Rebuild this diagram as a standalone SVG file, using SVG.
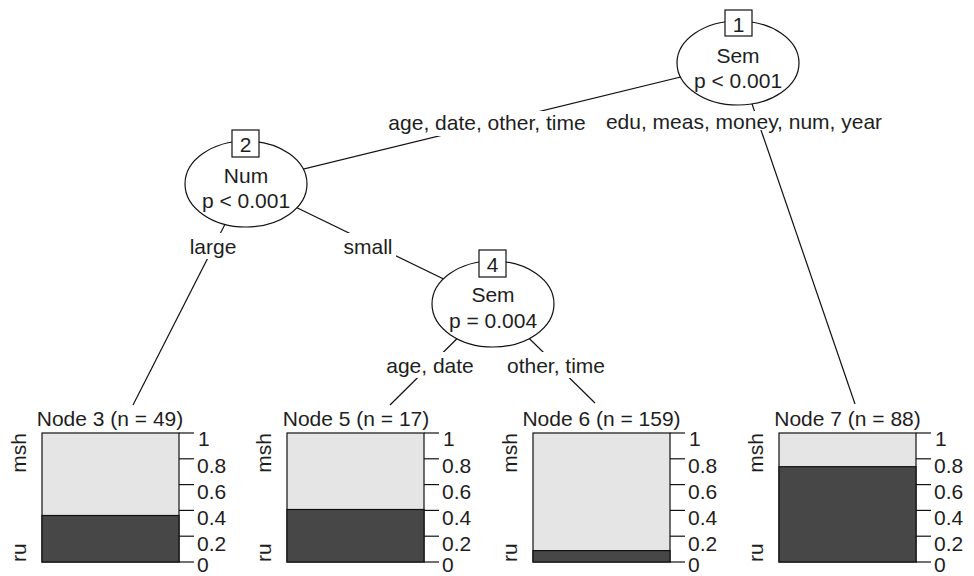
<svg xmlns="http://www.w3.org/2000/svg" width="974" height="576" viewBox="0 0 974 576">
<style>
text { font-family: "Liberation Sans", Arial, sans-serif; font-size: 21px; fill: #1e1e1e; }
.c { text-anchor: middle; }
.edge line { stroke: #111; stroke-width: 1.2; fill: none; }
.ell { fill: #fff; stroke: #111; stroke-width: 1.2; }
.nb { fill: #fff; stroke: #111; stroke-width: 1.2; }
.bg { fill: #fff; }
.lt { fill: #e5e5e5; stroke: #111; stroke-width: 1.2; }
.dk { fill: #474747; stroke: #111; stroke-width: 1.2; }
.tick { stroke: #111; stroke-width: 1.2; }
</style>
<rect width="974" height="576" fill="#fff"/>
<g id="connectors" class="edge">
  <line x1="738" y1="63" x2="246" y2="183"/>
  <line x1="738" y1="63" x2="855" y2="404"/>
  <line x1="246" y1="183" x2="133" y2="405"/>
  <line x1="246" y1="183" x2="493" y2="303"/>
  <line x1="493" y1="303" x2="390" y2="405"/>
  <line x1="493" y1="303" x2="595" y2="403"/>
</g>
<g id="edge-labels">
  <rect class="bg" x="384" y="111" width="208" height="25"/>
  <text x="487" y="130" class="c">age, date, other, time</text>
  <rect class="bg" x="604" y="111" width="281" height="19"/>
  <text x="744" y="129" class="c">edu, meas, money, num, year</text>
  <rect class="bg" x="187" y="233" width="54" height="26"/>
  <text x="213" y="254" class="c">large</text>
  <rect class="bg" x="340" y="233" width="56" height="24"/>
  <text x="368" y="254" class="c">small</text>
  <rect class="bg" x="380" y="352" width="100" height="26"/>
  <text x="430" y="373" class="c">age, date</text>
  <rect class="bg" x="500" y="352" width="112" height="26"/>
  <text x="556" y="373" class="c">other, time</text>
</g>
<g id="node1">
  <ellipse class="ell" cx="738" cy="63" rx="61" ry="42"/>
  <rect class="nb" x="725" y="10" width="27" height="26"/>
  <text x="738.5" y="32" class="c">1</text>
  <text x="738" y="63" class="c">Sem</text>
  <text x="738" y="88" class="c">p &lt; 0.001</text>
</g>
<g id="node2">
  <ellipse class="ell" cx="246" cy="184" rx="61" ry="43"/>
  <rect class="nb" x="232" y="130" width="27" height="27"/>
  <text x="245.5" y="152" class="c">2</text>
  <text x="246" y="183" class="c">Num</text>
  <text x="246" y="208" class="c">p &lt; 0.001</text>
</g>
<g id="node4">
  <ellipse class="ell" cx="493" cy="304" rx="61" ry="43"/>
  <rect class="nb" x="479" y="250" width="27" height="27"/>
  <text x="492.5" y="272" class="c">4</text>
  <text x="493" y="302" class="c">Sem</text>
  <text x="493" y="328" class="c">p = 0.004</text>
</g>
<g id="node3">
  <text x="110" y="426" class="c">Node 3 (n = 49)</text>
  <rect class="lt" x="42" y="433" width="137" height="129"/>
  <rect class="dk" x="42" y="515.5" width="137" height="46.5"/>
  <text transform="translate(26,433) rotate(-90)" text-anchor="end">msh</text>
  <text transform="translate(26,562) rotate(-90)">ru</text>
  <g class="tick"><line x1="179" y1="433" x2="194" y2="433"/><line x1="179" y1="458.8" x2="194" y2="458.8"/><line x1="179" y1="484.6" x2="194" y2="484.6"/><line x1="179" y1="510.4" x2="194" y2="510.4"/><line x1="179" y1="536.2" x2="194" y2="536.2"/><line x1="179" y1="562" x2="194" y2="562"/></g>
  <text x="198" y="446">1</text><text x="197" y="473">0.8</text><text x="197" y="499">0.6</text><text x="197" y="525">0.4</text><text x="197" y="551">0.2</text><text x="197" y="572">0</text>
</g>
<g id="node5">
  <text x="356" y="426" class="c">Node 5 (n = 17)</text>
  <rect class="lt" x="287" y="433" width="137" height="129"/>
  <rect class="dk" x="287" y="509.5" width="137" height="52.5"/>
  <text transform="translate(271,433) rotate(-90)" text-anchor="end">msh</text>
  <text transform="translate(271,562) rotate(-90)">ru</text>
  <g class="tick"><line x1="424" y1="433" x2="439" y2="433"/><line x1="424" y1="458.8" x2="439" y2="458.8"/><line x1="424" y1="484.6" x2="439" y2="484.6"/><line x1="424" y1="510.4" x2="439" y2="510.4"/><line x1="424" y1="536.2" x2="439" y2="536.2"/><line x1="424" y1="562" x2="439" y2="562"/></g>
  <text x="443" y="446">1</text><text x="442" y="473">0.8</text><text x="442" y="499">0.6</text><text x="442" y="525">0.4</text><text x="442" y="551">0.2</text><text x="442" y="572">0</text>
</g>
<g id="node6">
  <text x="601.5" y="426" class="c">Node 6 (n = 159)</text>
  <rect class="lt" x="533" y="433" width="137" height="129"/>
  <rect class="dk" x="533" y="550.6" width="137" height="11.4"/>
  <text transform="translate(517,433) rotate(-90)" text-anchor="end">msh</text>
  <text transform="translate(517,562) rotate(-90)">ru</text>
  <g class="tick"><line x1="670" y1="433" x2="685" y2="433"/><line x1="670" y1="458.8" x2="685" y2="458.8"/><line x1="670" y1="484.6" x2="685" y2="484.6"/><line x1="670" y1="510.4" x2="685" y2="510.4"/><line x1="670" y1="536.2" x2="685" y2="536.2"/><line x1="670" y1="562" x2="685" y2="562"/></g>
  <text x="689" y="446">1</text><text x="688" y="473">0.8</text><text x="688" y="499">0.6</text><text x="688" y="525">0.4</text><text x="688" y="551">0.2</text><text x="688" y="572">0</text>
</g>
<g id="node7">
  <text x="847.5" y="426" class="c">Node 7 (n = 88)</text>
  <rect class="lt" x="779" y="433" width="137" height="129"/>
  <rect class="dk" x="779" y="466.7" width="137" height="95.3"/>
  <text transform="translate(763,433) rotate(-90)" text-anchor="end">msh</text>
  <text transform="translate(763,562) rotate(-90)">ru</text>
  <g class="tick"><line x1="916" y1="433" x2="931" y2="433"/><line x1="916" y1="458.8" x2="931" y2="458.8"/><line x1="916" y1="484.6" x2="931" y2="484.6"/><line x1="916" y1="510.4" x2="931" y2="510.4"/><line x1="916" y1="536.2" x2="931" y2="536.2"/><line x1="916" y1="562" x2="931" y2="562"/></g>
  <text x="935" y="446">1</text><text x="934" y="473">0.8</text><text x="934" y="499">0.6</text><text x="934" y="525">0.4</text><text x="934" y="551">0.2</text><text x="934" y="572">0</text>
</g>
</svg>
